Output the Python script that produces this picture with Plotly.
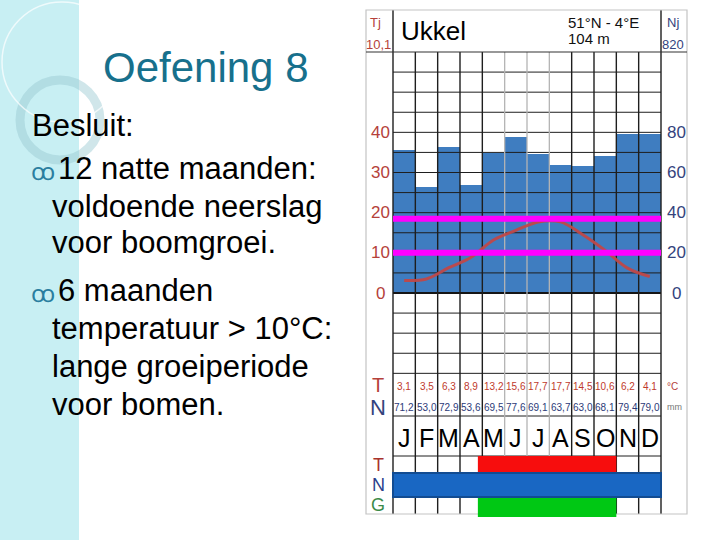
import plotly.graph_objects as go

# climate data Ukkel
months = ["J", "F", "M", "A", "M", "J", "J", "A", "S", "O", "N", "D"]
temp = [3.1, 3.5, 6.3, 8.9, 13.2, 15.6, 17.7, 17.7, 14.5, 10.6, 6.2, 4.1]
precip = [71.2, 53.0, 72.9, 53.6, 69.5, 77.6, 69.1, 63.7, 63.0, 68.1, 79.4, 79.0]
temp_ticks = [0, 10, 20, 30, 40]
precip_ticks = [0, 20, 40, 60, 80]
limit_lines = [10, 18.5]          # magenta threshold lines (degC)
season_start, season_end = 3.8, 10.0   # months with T > 10 degC
year_temp, year_precip = "10,1", "820"

bullet_lines = [
    ("", "Besluit:"),
    ("ꝏ", "12 natte maanden:"),
    ("", "voldoende neerslag"),
    ("", "voor boomgroei."),
    ("ꝏ", "6 maanden"),
    ("", "temperatuur > 10°C:"),
    ("", "lange groeiperiode"),
    ("", "voor bomen."),
]

W, H = 720, 540
X0, COL = 393, (661 - 393) / 12
Y0, DEG = 293, (293 - 52) / 60
FONT = "Liberation Sans, Arial, sans-serif"
RED = "#b5413a"
BLUE = "#34437d"


def cx(px):
    return (px - X0) / COL


def ty(py):
    return (Y0 - py) / DEG


def pxp(px):
    return px / W


def pyp(py):
    return 1 - py / H


centers = [i + 0.5 for i in range(len(months))]

fig = go.Figure()

# precipitation bars (base axis, drawn first)
fig.add_trace(go.Bar(
    x=centers, y=precip, width=1, yaxis="y",
    marker=dict(color="#3f7dc0", line=dict(width=0)),
    showlegend=False, hoverinfo="skip",
))

# grid: horizontal lines every 5 degC
hx, hy = [], []
for lv in range(-20, 60, 5):
    if lv == 0:
        continue
    hx += [0, 12, None]
    hy += [lv, lv, None]
for py in (416, 456):
    hx += [0, 12, None]
    hy += [ty(py), ty(py), None]
fig.add_trace(go.Scatter(x=hx, y=hy, yaxis="y2", mode="lines",
                         line=dict(color="#1e1e1e", width=1), showlegend=False, hoverinfo="skip"))
fig.add_trace(go.Scatter(x=[0, 12], y=[0, 0], yaxis="y2", mode="lines",
                         line=dict(color="#151515", width=2), showlegend=False, hoverinfo="skip"))

# grid: vertical month boundaries
dark_x, dark_y, light_x, light_y = [], [], [], []
for k in range(13):
    top = ty(10) if k in (0, 12) else 60
    if k in (5, 6, 7):
        light_x += [k, k, None]
        light_y += [top, ty(514), None]
    else:
        dark_x += [k, k, None]
        dark_y += [top, ty(514), None]
fig.add_trace(go.Scatter(x=light_x, y=light_y, yaxis="y2", mode="lines",
                         line=dict(color="#b4b4b4", width=1.3), showlegend=False, hoverinfo="skip"))
fig.add_trace(go.Scatter(x=dark_x, y=dark_y, yaxis="y2", mode="lines",
                         line=dict(color="#1e1e1e", width=1.4), showlegend=False, hoverinfo="skip"))

# temperature curve
fig.add_trace(go.Scatter(
    x=centers, y=temp, yaxis="y2", mode="lines",
    line=dict(color="rgba(192,72,72,0.95)", width=3, shape="spline", smoothing=1.0),
    showlegend=False, hoverinfo="skip",
))

shapes = [
    # cyan side strip of the slide
    dict(type="rect", xref="paper", yref="paper", x0=0, x1=pxp(79), y0=0, y1=1,
         fillcolor="#c8eff3", line=dict(width=0), layer="below"),
    dict(type="circle", xref="paper", yref="paper", x0=pxp(20), x1=pxp(100),
         y0=pyp(160), y1=pyp(80), line=dict(color="rgba(150,200,208,0.45)", width=9), layer="below"),
    dict(type="circle", xref="paper", yref="paper", x0=pxp(2), x1=pxp(122),
         y0=pyp(122), y1=pyp(2), line=dict(color="rgba(255,255,255,0.7)", width=1.5), layer="below"),
    # outer frame and header line
    dict(type="rect", xref="paper", yref="paper", x0=pxp(366), x1=pxp(687), y0=pyp(514), y1=pyp(10),
         line=dict(color="#c4c4c4", width=1.2)),
    dict(type="line", xref="paper", yref="paper", x0=pxp(366), x1=pxp(687), y0=pyp(52), y1=pyp(52),
         line=dict(color="#333333", width=1.2)),
    # growing season bars
    dict(type="rect", xref="x", yref="y2", x0=season_start, x1=season_end, y0=ty(473), y1=ty(456),
         fillcolor="#f70d0d", line=dict(width=0)),
    dict(type="rect", xref="x", yref="y2", x0=season_start, x1=season_end, y0=ty(517), y1=ty(495),
         fillcolor="#00c814", line=dict(width=0)),
    dict(type="rect", xref="x", yref="y2", x0=0, x1=12, y0=ty(497), y1=ty(473),
         fillcolor="#1967c3", line=dict(color="#124c92", width=2)),
]
for lv in limit_lines:
    shapes.append(dict(type="line", xref="x", yref="y2", x0=0, x1=12, y0=lv, y1=lv,
                       line=dict(color="#ff00ff", width=6)))

ann = []


def txt(text, x, y, size, color="black", anchor="center"):
    ann.append(dict(text=text, x=pxp(x), y=pyp(y), xref="paper", yref="paper",
                    xanchor=anchor, yanchor="middle", showarrow=False,
                    font=dict(family=FONT, size=size, color=color)))


# header
txt("Tj", 375, 22, 13, RED)
txt(year_temp, 378, 44, 13, RED)
txt("Ukkel", 399, 31, 26, "black", "left")
txt("51°N - 4°E", 566, 22, 15, "#111111", "left")
txt("104 m", 566, 39, 15, "#111111", "left")
txt("Nj", 673, 22, 13, BLUE)
txt(year_precip, 673, 44, 13, BLUE)

# axis tick labels
for t, p in zip(temp_ticks, precip_ticks):
    ann.append(dict(text=str(t), x=pxp(380), y=t, xref="paper", yref="y2", showarrow=False,
                    xanchor="center", yanchor="middle", font=dict(family=FONT, size=17, color=RED)))
    ann.append(dict(text=str(p), x=pxp(676), y=t, xref="paper", yref="y2", showarrow=False,
                    xanchor="center", yanchor="middle", font=dict(family=FONT, size=17, color=BLUE)))

# value rows
txt("T", 378, 385, 20, RED)
txt("N", 378, 407, 22, BLUE)
txt("°C", 672, 386, 10, RED)
txt("mm", 674, 407, 9, "#777777")
for c, t, p, m in zip(centers, temp, precip, months):
    for text, py, size, color in (
        (f"{t:.1f}".replace(".", ","), 386, 10, "#c0392b"),
        (f"{p:.1f}".replace(".", ","), 407, 10, "#2c3a78"),
        (m, 438, 25, "black"),
    ):
        ann.append(dict(text=text, x=c, y=pyp(py), xref="x", yref="paper", showarrow=False,
                        xanchor="center", yanchor="middle", font=dict(family=FONT, size=size, color=color)))

txt("T", 378, 465, 18, "#a8322c")
txt("N", 378, 485, 18, "#2b3f8c")
txt("G", 378, 505, 18, "#3a8a48")

# slide text
txt("Oefening 8", 206, 68, 42, "#17708c")
line_y = [125, 168, 206, 243, 290, 328, 366, 404]
for (bul, line), y in zip(bullet_lines, line_y):
    if line == "Besluit:":
        txt(line, 30, y, 31, "black", "left")
    elif bul:
        txt(bul, 29, y + 3, 24, "#2a7ea0", "left")
        txt(line, 56, y, 31, "black", "left")
    else:
        txt(line, 50, y, 31, "black", "left")

fig.update_layout(
    width=W, height=H,
    margin=dict(l=0, r=0, t=0, b=0),
    paper_bgcolor="white", plot_bgcolor="rgba(0,0,0,0)",
    xaxis=dict(range=[cx(0), cx(W)], domain=[0, 1], visible=False, fixedrange=True),
    yaxis=dict(range=[2 * ty(H), 2 * ty(0)], domain=[0, 1], visible=False, fixedrange=True),
    yaxis2=dict(range=[ty(H), ty(0)], overlaying="y", visible=False, fixedrange=True),
    shapes=shapes, annotations=ann,
    bargap=0, showlegend=False,
)

fig.write_html("out.html", config={"displayModeBar": False},
               post_script="document.body.style.margin = '0';")
